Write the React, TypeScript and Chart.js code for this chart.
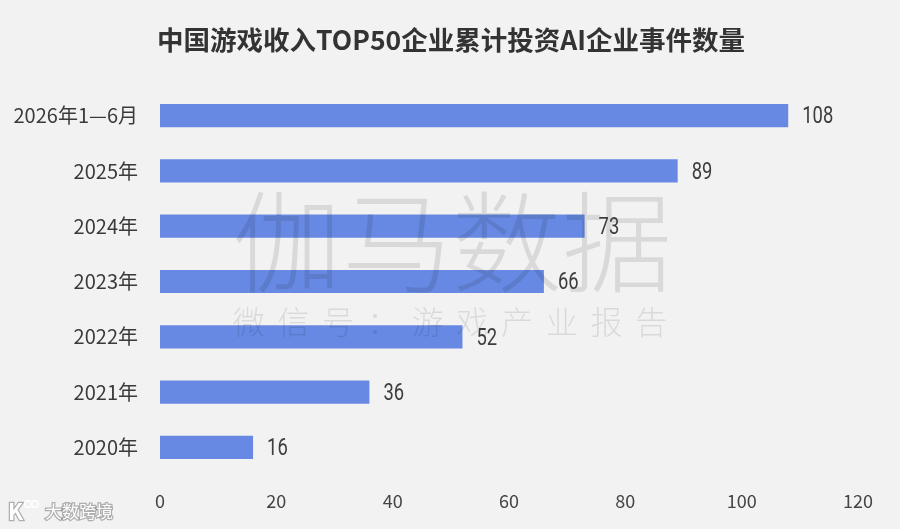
import React, { useEffect, useRef } from "react";
import { Chart, registerables } from "chart.js";

Chart.register(...registerables);

const titleText = "中国游戏收入TOP50企业累计投资AI企业事件数量";
const categories = ["2026年1—6月", "2025年", "2024年", "2023年", "2022年", "2021年", "2020年"];
const values = [108, 89, 73, 66, 52, 36, 16];
const xTicks = [0, 20, 40, 60, 80, 100, 120];
const watermarkMain = "伽马数据";
const watermarkSub = "微信号：游戏产业报告";
const logoText = "大数跨境";

const CJK = '"Noto Sans CJK SC", "Noto Sans", sans-serif';
const NUM = '"Roboto", "Noto Sans", sans-serif';

const overlayPlugin = {
  id: "overlay",
  afterDatasetsDraw(chart: any) {
    const ctx = chart.ctx as CanvasRenderingContext2D;
    const w = chart.width;
    ctx.save();
    // title
    ctx.fillStyle = "#333333";
    ctx.textAlign = "center";
    ctx.textBaseline = "middle";
    ctx.font = `bold 26.5px ${CJK}`;
    ctx.fillText(titleText, 451, 40);
    // watermark
    ctx.fillStyle = "rgba(0,0,0,0.1)";
    ctx.font = `300 110px ${CJK}`;
    const cx = w / 2 + 2;
    const mainChars = Array.from(watermarkMain);
    mainChars.forEach((c, i) => {
      ctx.fillText(c, cx + (i - (mainChars.length - 1) / 2) * 110, 242);
    });
    ctx.font = `300 32px ${CJK}`;
    const subChars = Array.from(watermarkSub);
    subChars.forEach((c, i) => {
      ctx.fillText(c, cx - 2 + (i - (subChars.length - 1) / 2) * 44.7, 322);
    });
    // value labels
    const meta = chart.getDatasetMeta(0);
    ctx.fillStyle = "#3d3d3d";
    ctx.font = `400 23px ${NUM}`;
    ctx.textAlign = "left";
    ctx.textBaseline = "middle";
    meta.data.forEach((bar: any, i: number) => {
      ctx.save();
      ctx.translate(bar.x + 14, bar.y + 2);
      ctx.scale(0.8, 1);
      ctx.fillText(String(values[i]), 0, 0);
      ctx.restore();
    });
    // logo
    ctx.font = `17px ${CJK}`;
    ctx.textAlign = "left";
    ctx.lineWidth = 2.5;
    ctx.strokeStyle = "rgba(120,120,120,0.55)";
    ctx.strokeText(logoText, 45, 512);
    ctx.fillStyle = "#ffffff";
    ctx.fillText(logoText, 45, 512);
    ctx.font = `bold 22px ${CJK}`;
    ctx.strokeText("K", 8, 512);
    ctx.fillText("K", 8, 512);
    ctx.lineWidth = 1.6;
    [28, 35].forEach((x) => {
      ctx.beginPath();
      ctx.arc(x, 504, 3.4, 0, Math.PI * 2);
      ctx.strokeStyle = "rgba(255,255,255,0.95)";
      ctx.stroke();
    });
    ctx.restore();
  },
};

export default function App() {
  const ref = useRef<HTMLCanvasElement | null>(null);
  useEffect(() => {
    document.body.style.margin = "0";
    const canvas = ref.current;
    if (!canvas) return;
    const chart = new Chart(canvas, {
      type: "bar",
      data: {
        labels: categories,
        datasets: [
          {
            data: values,
            backgroundColor: "#6889e3",
            borderWidth: 0,
            barPercentage: 0.42,
            categoryPercentage: 1,
          },
        ],
      },
      options: {
        indexAxis: "y",
        animation: false,
        responsive: false,
        maintainAspectRatio: false,
        layout: { padding: { left: 0, right: 42, top: 88, bottom: 0 } },
        plugins: {
          legend: { display: false },
          tooltip: { enabled: false },
          title: { display: false },
        },
        scales: {
          x: {
            type: "linear",
            min: 0,
            max: 120,
            afterBuildTicks: (scale: any) => {
              scale.ticks = xTicks.map((v) => ({ value: v }));
            },
            afterFit: (scale: any) => {
              scale.height = 54;
            },
            grid: { display: false, drawTicks: false },
            border: { display: false },
            ticks: {
              color: "#444444",
              font: { family: CJK, size: 18 },
              padding: 15,
              maxRotation: 0,
            },
          },
          y: {
            type: "category",
            afterFit: (scale: any) => {
              scale.width = 160;
            },
            grid: { display: false, drawTicks: false },
            border: { display: false },
            ticks: {
              color: "#3a3a3a",
              font: { family: CJK, size: 20 },
              padding: 22,
            },
          },
        },
      },
      plugins: [overlayPlugin],
    });
    return () => chart.destroy();
  }, []);
  return (
    <div style={{ position: "fixed", left: 0, top: 0, width: 900, height: 529, background: "#f2f2f2" }}>
      <canvas ref={ref} width={900} height={529} style={{ width: 900, height: 529, display: "block" }} />
    </div>
  );
}
